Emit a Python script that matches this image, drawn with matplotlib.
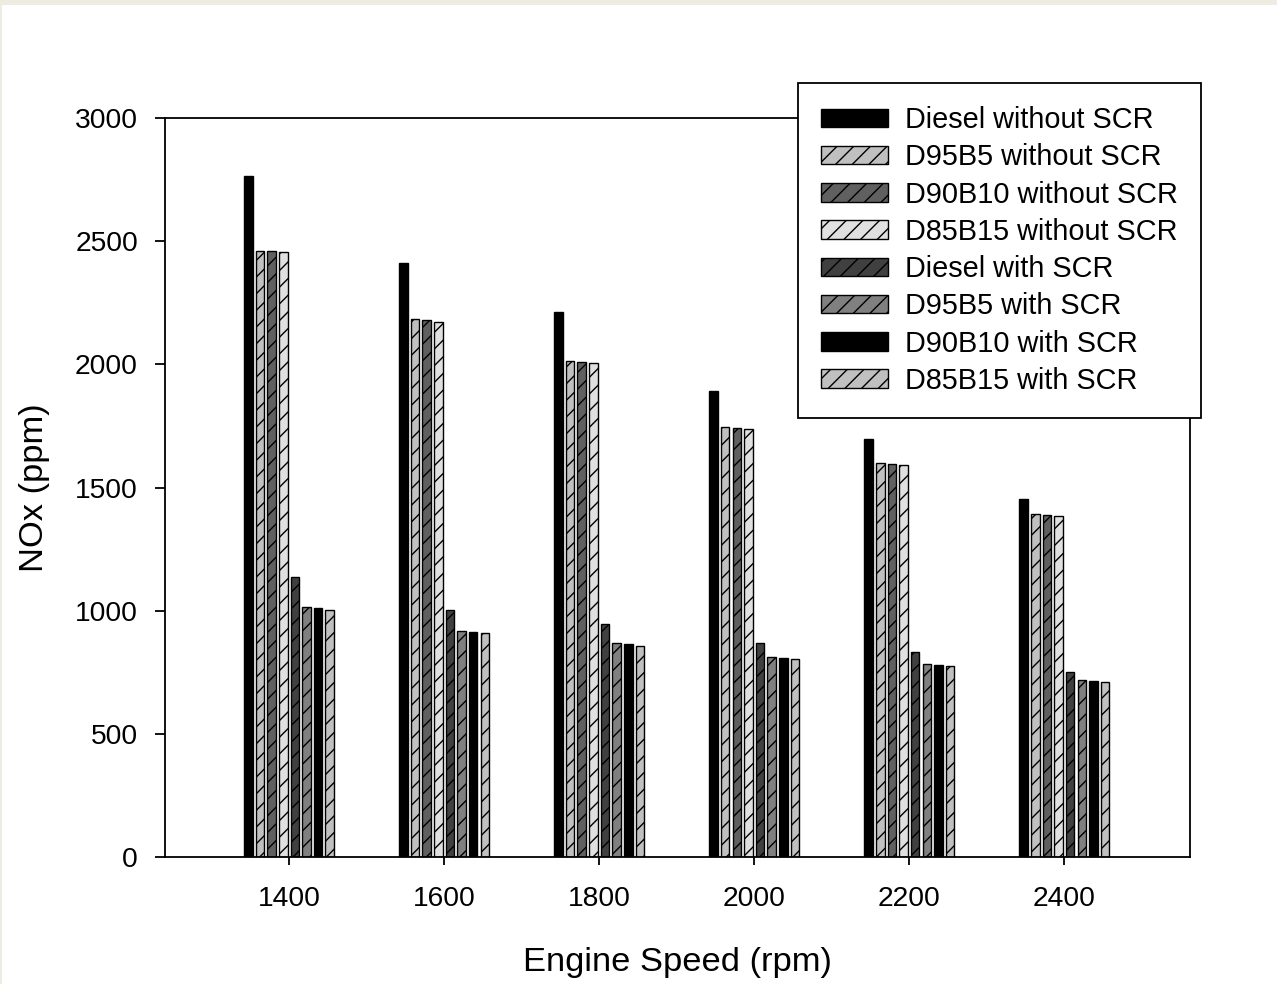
import matplotlib
matplotlib.use('Agg')
import matplotlib.pyplot as plt
import matplotlib.patches as patches
import numpy as np

plt.rcParams['font.family'] = ['Liberation Sans', 'DejaVu Sans']
plt.rcParams['hatch.linewidth'] = 1.0

speeds = [1400, 1600, 1800, 2000, 2200, 2400]

series_names = [
    'Diesel without SCR', 'D95B5 without SCR', 'D90B10 without SCR', 'D85B15 without SCR',
    'Diesel with SCR', 'D95B5 with SCR', 'D90B10 with SCR', 'D85B15 with SCR',
]

diesel_no_scr = [2765, 2410, 2211, 1893, 1697, 1453]
d95b5_no_scr = [2462, 2183, 2014, 1744, 1600, 1392]
d90b10_no_scr = [2459, 2179, 2008, 1741, 1595, 1388]
d85b15_no_scr = [2455, 2173, 2004, 1737, 1591, 1384]
diesel_scr = [1135, 1003, 945, 870, 832, 751]
d95b5_scr = [1016, 919, 868, 811, 783, 719]
d90b10_scr = [1011, 913, 863, 806, 779, 714]
d85b15_scr = [1002, 908, 858, 802, 775, 710]

values = [diesel_no_scr, d95b5_no_scr, d90b10_no_scr, d85b15_no_scr,
          diesel_scr, d95b5_scr, d90b10_scr, d85b15_scr]

colors = ['#000000', '#c0c0c0', '#606060', '#e0e0e0',
          '#404040', '#808080', '#000000', '#c0c0c0']
hatches = ['', '//', '//', '//', '//', '//', '', '//']

fig = plt.figure(figsize=(12.77, 9.84), dpi=100)
fig.patch.set_facecolor('white')
# beige frame strip at the top / left edge
fig.patches.append(patches.Rectangle((0, 1 - 5 / 984), 1, 5 / 984, transform=fig.transFigure,
                                     facecolor='#eeebe0', edgecolor='none', zorder=0))
fig.patches.append(patches.Rectangle((0, 0), 2 / 1277, 1, transform=fig.transFigure,
                                     facecolor='#eeebe0', edgecolor='none', zorder=0))

ax = fig.add_axes([165 / 1277, 127 / 984, 1025 / 1277, 739 / 984])

step = 15
width = 11
x = np.array(speeds, dtype=float)
for i, (name, vals) in enumerate(zip(series_names, values)):
    ax.bar(x + (i - 3.5) * step, vals, width=width, color=colors[i], hatch=hatches[i],
           edgecolor='black', linewidth=1.0, label=name)

ax.set_xlim(1240, 2562)
ax.set_ylim(0, 3000)
ax.set_yticks(np.arange(0, 3001, 500))
ax.set_xticks(speeds)

for sp in ax.spines.values():
    sp.set_linewidth(1.3)

ax.tick_params(axis='y', direction='out', length=7.5, width=1.3, pad=12, labelsize=20.3)
ax.tick_params(axis='x', direction='out', length=6, width=1.3, pad=15, labelsize=20.3)

ax.set_xlabel('Engine Speed (rpm)', fontsize=24.8, labelpad=25)
ax.set_ylabel('NOx (ppm)', fontsize=24.8, labelpad=18)

leg = ax.legend(loc='upper left', bbox_to_anchor=(798 / 1277, 1 - 83 / 984),
                bbox_transform=fig.transFigure, fontsize=20.8, frameon=True, fancybox=False,
                edgecolor='black', handlelength=2.3, handleheight=0.6, labelspacing=0.32,
                handletextpad=0.6, borderpad=0.8, borderaxespad=0)
leg.get_frame().set_linewidth(1.3)
leg.get_frame().set_alpha(1)

fig.savefig('out.png', dpi=100, facecolor=fig.get_facecolor())
